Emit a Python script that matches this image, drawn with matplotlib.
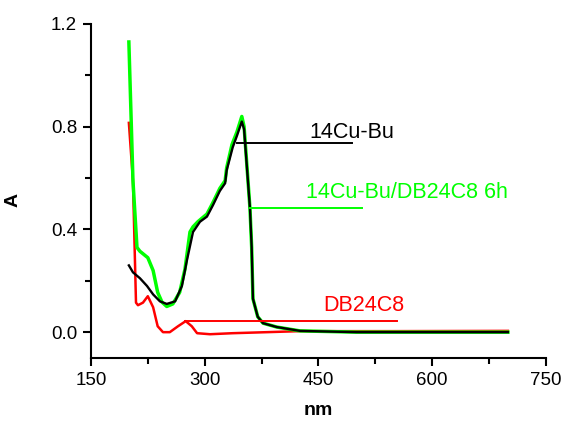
import matplotlib
matplotlib.use("Agg")
import matplotlib.pyplot as plt
from matplotlib.ticker import MultipleLocator
import numpy as np

plt.rcParams['font.family'] = ['Liberation Sans', 'DejaVu Sans']

# 14Cu-Bu/DB24C8 6h (green)
green_nm = [200, 205.4, 210.7, 214.6, 225, 232, 238, 243.7, 250, 258, 267, 274,
            280.6, 284.6, 291, 303, 311, 320, 327, 329, 336, 342.6, 349, 352,
            355.8, 359.8, 362, 363.7, 370, 377, 395, 425.7, 500, 600, 700]
green_a = [1.13, 0.59, 0.33, 0.315, 0.29, 0.24, 0.155, 0.117, 0.10, 0.11, 0.155, 0.245,
           0.39, 0.41, 0.43, 0.46, 0.505, 0.56, 0.59, 0.64, 0.73, 0.78, 0.84, 0.80,
           0.645, 0.48, 0.33, 0.13, 0.06, 0.035, 0.02, 0.005, 0.0, 0.0, 0.0]

# 14Cu-Bu (black)
black_nm = [200, 205.4, 214.6, 223.9, 232, 241, 250, 261, 270, 276.6, 284.6, 293.8,
            303, 311, 320, 327, 329, 337, 342.6, 349, 352, 355.8, 359.8, 362,
            363.7, 370, 377, 395, 425.7, 500, 600, 700]
black_a = [0.26, 0.233, 0.21, 0.18, 0.147, 0.12, 0.11, 0.12, 0.18, 0.28, 0.39, 0.43,
           0.45, 0.495, 0.55, 0.58, 0.63, 0.72, 0.765, 0.82, 0.79, 0.64, 0.48, 0.33,
           0.13, 0.06, 0.035, 0.02, 0.005, 0.0, 0.0, 0.0]

# DB24C8 (red)
red_nm = [200, 205.4, 209.4, 212, 218.6, 225, 232, 238, 245, 254, 264.8, 275,
          283, 290, 307, 337, 382, 425.7, 550, 700]
red_a = [0.815, 0.59, 0.115, 0.105, 0.115, 0.14, 0.097, 0.023, 0.0, 0.0, 0.023, 0.043,
         0.023, -0.004, -0.008, -0.004, 0.0, 0.004, 0.004, 0.005]

labels = ['14Cu-Bu', '14Cu-Bu/DB24C8 6h', 'DB24C8']
colors = ['black', '#00ff00', '#ff0000']
# leader lines: (x0, x1, y) and text anchor (x, y)
leader = [(342.5, 494, 0.735), (360, 507, 0.484), (274, 553.5, 0.044)]
text_pos = [(437.5, 0.756), (433.5, 0.522), (457, 0.082)]

fig = plt.figure(figsize=(5.65, 4.21), dpi=100)
ax = fig.add_axes([0.161, 0.150, 0.805, 0.793])

ax.plot(red_nm, red_a, color='#ff0000', lw=1.8)
ax.plot(green_nm, green_a, color='#00ff00', lw=2.5)
ax.plot(black_nm, black_a, color='black', lw=1.7)

for (x0, x1, y), (tx, ty), lab, c in zip(leader, text_pos, labels, colors):
    ax.plot([x0, x1], [y, y], color=c, lw=1.4)
    ax.text(tx, ty, lab, color=c, fontsize=15.5, ha='left', va='baseline')

ax.set_xlim(150, 750)
ax.set_ylim(-0.1, 1.2)
ax.xaxis.set_major_locator(MultipleLocator(150))
ax.xaxis.set_minor_locator(MultipleLocator(75))
ax.yaxis.set_major_locator(MultipleLocator(0.4))
ax.yaxis.set_minor_locator(MultipleLocator(0.2))
ax.set_yticks([0.0, 0.4, 0.8, 1.2])
ax.set_yticklabels(['0.0', '0.4', '0.8', '1.2'])

for s in ['top', 'right']:
    ax.spines[s].set_visible(False)
for s in ['left', 'bottom']:
    ax.spines[s].set_linewidth(1.5)

ax.tick_params(which='major', direction='out', length=6, width=1.5, labelsize=13.5, pad=4)
ax.tick_params(which='minor', direction='out', length=4, width=1.5)

ax.set_xlabel('nm', fontsize=14, fontweight='bold')
ax.set_ylabel('A', fontsize=14, fontweight='bold')
ax.xaxis.set_label_coords(0.499, -0.132)
ax.yaxis.set_label_coords(-0.152, 0.473)

fig.savefig('out.png', dpi=100)
